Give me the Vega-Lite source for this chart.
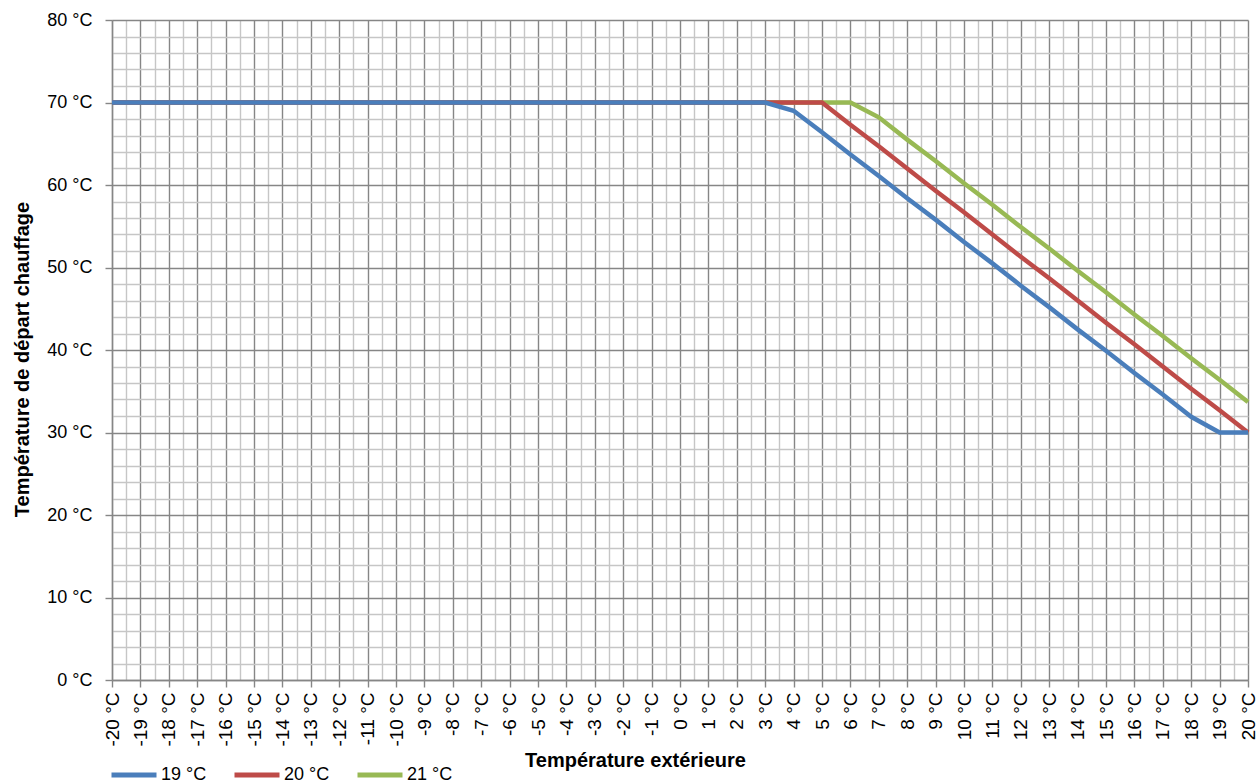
{
  "$schema": "https://vega.github.io/schema/vega-lite/v6.json",
  "autosize": {"type": "none"},
  "width": 1136,
  "height": 660,
  "padding": {"left": 112, "top": 20, "right": 9, "bottom": 103},
  "background": "white",
  "config": {
    "view": {"stroke": null},
    "font": "Liberation Sans"
  },
  "data": {
    "values": [
      {"t": -20, "v": 70, "s": "21 °C"}, {"t": -10, "v": 70, "s": "21 °C"}, {"t": 0, "v": 70, "s": "21 °C"}, {"t": 6, "v": 70, "s": "21 °C"},
      {"t": 7, "v": 68.2, "s": "21 °C"}, {"t": 8, "v": 65.5, "s": "21 °C"}, {"t": 9, "v": 62.9, "s": "21 °C"}, {"t": 10, "v": 60.2, "s": "21 °C"},
      {"t": 11, "v": 57.6, "s": "21 °C"}, {"t": 12, "v": 54.9, "s": "21 °C"}, {"t": 13, "v": 52.3, "s": "21 °C"}, {"t": 14, "v": 49.6, "s": "21 °C"},
      {"t": 15, "v": 47, "s": "21 °C"}, {"t": 16, "v": 44.3, "s": "21 °C"}, {"t": 17, "v": 41.7, "s": "21 °C"}, {"t": 18, "v": 39, "s": "21 °C"},
      {"t": 19, "v": 36.4, "s": "21 °C"}, {"t": 20, "v": 33.7, "s": "21 °C"},
      {"t": -20, "v": 70, "s": "20 °C"}, {"t": -10, "v": 70, "s": "20 °C"}, {"t": 0, "v": 70, "s": "20 °C"}, {"t": 5, "v": 70, "s": "20 °C"},
      {"t": 6, "v": 67.3, "s": "20 °C"}, {"t": 7, "v": 64.7, "s": "20 °C"}, {"t": 8, "v": 62, "s": "20 °C"}, {"t": 9, "v": 59.3, "s": "20 °C"},
      {"t": 10, "v": 56.7, "s": "20 °C"}, {"t": 11, "v": 54, "s": "20 °C"}, {"t": 12, "v": 51.3, "s": "20 °C"}, {"t": 13, "v": 48.7, "s": "20 °C"},
      {"t": 14, "v": 46, "s": "20 °C"}, {"t": 15, "v": 43.3, "s": "20 °C"}, {"t": 16, "v": 40.7, "s": "20 °C"}, {"t": 17, "v": 38, "s": "20 °C"},
      {"t": 18, "v": 35.3, "s": "20 °C"}, {"t": 19, "v": 32.7, "s": "20 °C"}, {"t": 20, "v": 30, "s": "20 °C"},
      {"t": -20, "v": 70, "s": "19 °C"}, {"t": -10, "v": 70, "s": "19 °C"}, {"t": 0, "v": 70, "s": "19 °C"}, {"t": 3, "v": 70, "s": "19 °C"},
      {"t": 4, "v": 69, "s": "19 °C"}, {"t": 5, "v": 66.4, "s": "19 °C"}, {"t": 6, "v": 63.7, "s": "19 °C"}, {"t": 7, "v": 61.1, "s": "19 °C"},
      {"t": 8, "v": 58.4, "s": "19 °C"}, {"t": 9, "v": 55.8, "s": "19 °C"}, {"t": 10, "v": 53.1, "s": "19 °C"}, {"t": 11, "v": 50.5, "s": "19 °C"},
      {"t": 12, "v": 47.8, "s": "19 °C"}, {"t": 13, "v": 45.2, "s": "19 °C"}, {"t": 14, "v": 42.5, "s": "19 °C"}, {"t": 15, "v": 39.9, "s": "19 °C"},
      {"t": 16, "v": 37.2, "s": "19 °C"}, {"t": 17, "v": 34.6, "s": "19 °C"}, {"t": 18, "v": 31.9, "s": "19 °C"}, {"t": 19, "v": 30, "s": "19 °C"},
      {"t": 20, "v": 30, "s": "19 °C"}
    ]
  },
  "mark": {"type": "line", "strokeWidth": 4.5, "strokeJoin": "miter", "clip": false},
  "encoding": {
    "x": {
      "field": "t", "type": "quantitative",
      "scale": {"domain": [-20, 20], "nice": false, "zero": false},
      "axis": {
        "title": "Température extérieure",
        "titleFont": "Liberation Sans", "titleFontSize": 20, "titleFontWeight": "bold", "titleColor": "black",
        "titleX": 523, "titleY": 80, "titleBaseline": "middle", "titleAlign": "center",
        "values": [-20,-19.5,-19,-18.5,-18,-17.5,-17,-16.5,-16,-15.5,-15,-14.5,-14,-13.5,-13,-12.5,-12,-11.5,-11,-10.5,-10,-9.5,-9,-8.5,-8,-7.5,-7,-6.5,-6,-5.5,-5,-4.5,-4,-3.5,-3,-2.5,-2,-1.5,-1,-0.5,0,0.5,1,1.5,2,2.5,3,3.5,4,4.5,5,5.5,6,6.5,7,7.5,8,8.5,9,9.5,10,10.5,11,11.5,12,12.5,13,13.5,14,14.5,15,15.5,16,16.5,17,17.5,18,18.5,19,19.5,20],
        "labelExpr": "datum.value % 1 == 0 ? datum.value + ' °C' : ''",
        "labelAngle": -90, "labelAlign": "right", "labelBaseline": "middle",
        "labelFontSize": 19, "labelColor": "black", "labelPadding": 5, "labelOverlap": false, "labelFlush": false,
        "grid": true,
        "gridColor": {"condition": {"test": "datum.value % 1 != 0", "value": "#c6c6c6"}, "value": "#868686"},
        "gridWidth": 1.4,
        "ticks": true, "tickSize": 7, "tickColor": "#868686", "tickWidth": 1.4,
        "tickOpacity": {"condition": {"test": "datum.value % 1 != 0", "value": 0}, "value": 1},
        "domainColor": "#868686", "domainWidth": 1.4
      }
    },
    "y": {
      "field": "v", "type": "quantitative",
      "scale": {"domain": [0, 80], "nice": false},
      "axis": {
        "title": "Température de départ chauffage",
        "titleFont": "Liberation Sans", "titleFontSize": 20, "titleFontWeight": "bold", "titleColor": "black",
        "titleX": -90, "titleY": 339, "titleAngle": -90, "titleBaseline": "middle", "titleAlign": "center",
        "values": [0,2,4,6,8,10,12,14,16,18,20,22,24,26,28,30,32,34,36,38,40,42,44,46,48,50,52,54,56,58,60,62,64,66,68,70,72,74,76,78,80],
        "labelExpr": "datum.value % 10 == 0 ? datum.value + ' °C' : ''",
        "labelFontSize": 18, "labelColor": "black", "labelPadding": 13, "labelOverlap": false, "labelFlush": false,
        "grid": true,
        "gridColor": {"condition": {"test": "datum.value % 10 != 0", "value": "#c6c6c6"}, "value": "#868686"},
        "gridWidth": 1.4,
        "ticks": true, "tickSize": 7, "tickColor": "#868686", "tickWidth": 1.4,
        "tickOpacity": {"condition": {"test": "datum.value % 10 != 0", "value": 0}, "value": 1},
        "domainColor": "#868686", "domainWidth": 1.4
      }
    },
    "color": {
      "field": "s", "type": "nominal",
      "scale": {"domain": ["19 °C", "20 °C", "21 °C"], "range": ["#4A7EBB", "#BE4B48", "#98B954"]},
      "legend": {
        "title": null, "orient": "none", "direction": "horizontal",
        "legendX": -3, "legendY": 730,
        "symbolType": "stroke", "symbolSize": 2025, "symbolStrokeWidth": 5,
        "labelFontSize": 18, "labelColor": "black", "labelOffset": 2,
        "columnPadding": 17
      }
    }
  }
}
